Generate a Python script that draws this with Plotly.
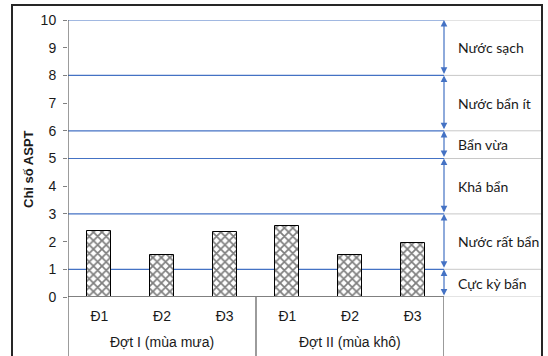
import plotly.graph_objects as go

categories = ["Đ1", "Đ2", "Đ3", "Đ1", "Đ2", "Đ3"]
groups = ["Đợt I (mùa mưa)", "Đợt II (mùa khô)"]
values = [2.38, 1.5, 2.35, 2.55, 1.5, 1.95]
levels = [0, 1, 3, 5, 6, 8, 10]
level_labels = ["Cực kỳ bẩn", "Nước rất bẩn", "Khá bẩn", "Bẩn vừa", "Nước bẩn ít", "Nước sạch"]
y_ticks = list(range(0, 11))

W, H = 548, 356
L, R, T, B = 68, 444, 20, 297
pw, ph = R - L, B - T

def px2paper_x(px):
    return (px - L) / pw

def px2paper_y(py):
    return (B - py) / ph

xs = list(range(len(categories)))
arial = "Liberation Sans, Arial, sans-serif"
txt = "#1a1a1a"

fig = go.Figure()
fig.add_trace(go.Bar(
    x=xs, y=values, width=0.38,
    marker=dict(color="white", line=dict(color="black", width=1),
                pattern=dict(shape="x", fgcolor="black", bgcolor="white", size=6, solidity=0.5)),
    showlegend=False, hoverinfo="skip",
))

shapes = []
blue = "#4472C4"
for lv in levels[1:]:
    shapes.append(dict(type="line", xref="paper", yref="y", x0=0, x1=1, y0=lv, y1=lv,
                       line=dict(color=blue, width=1.2), layer="below"))
for lv in levels:
    shapes.append(dict(type="line", xref="paper", yref="y", x0=1, x1=px2paper_x(541), y0=lv, y1=lv,
                       line=dict(color="#C8C8C8", width=1), layer="below"))
# x axis line
shapes.append(dict(type="line", xref="paper", yref="y", x0=0, x1=1, y0=0, y1=0,
                   line=dict(color="#808080", width=1.8)))
# vertical separators
n = len(categories)
for xv in [-0.5, n / 2 - 0.5, n - 0.5]:
    shapes.append(dict(type="line", xref="x", yref="paper", x0=xv, x1=xv,
                       y0=px2paper_y(358), y1=(1 if xv == -0.5 else 0),
                       line=dict(color="#595959", width=1.2)))
# outer frame
shapes.append(dict(type="rect", xref="paper", yref="paper",
                   x0=px2paper_x(12), x1=px2paper_x(542), y0=px2paper_y(362), y1=px2paper_y(5),
                   line=dict(color="#262626", width=2)))

annotations = []
for i in range(len(levels) - 1):
    lo, hi = levels[i], levels[i + 1]
    annotations.append(dict(x=n - 0.5, y=hi, xref="x", yref="y", ax=n - 0.5, ay=lo,
                            axref="x", ayref="y", text="", showarrow=True,
                            arrowhead=2, arrowside="end+start", arrowsize=1.1,
                            arrowwidth=1.2, arrowcolor=blue))
    annotations.append(dict(x=px2paper_x(456), y=(lo + hi) / 2, xref="paper", yref="y",
                            text=level_labels[i], showarrow=False, xanchor="left", yanchor="middle",
                            font=dict(family="Lato, Liberation Sans, sans-serif", size=14, color=txt)))
for gi, g in enumerate(groups):
    annotations.append(dict(x=gi * 3 + 1, y=px2paper_y(342), xref="x", yref="paper", text=g,
                            showarrow=False, xanchor="center", yanchor="middle",
                            font=dict(family=arial, size=14, color=txt)))
annotations.append(dict(x=px2paper_x(28), y=px2paper_y(169), xref="paper", yref="paper",
                        text="<b>Chỉ số ASPT</b>", textangle=-90, showarrow=False,
                        xanchor="center", yanchor="middle",
                        font=dict(family=arial, size=13, color=txt)))

fig.update_layout(
    width=W, height=H,
    margin=dict(l=L, r=W - R, t=T, b=H - B),
    paper_bgcolor="white", plot_bgcolor="white",
    shapes=shapes, annotations=annotations,
    xaxis=dict(range=[-0.5, n - 0.5], tickvals=xs, ticktext=categories, ticks="",
               showgrid=False, zeroline=False, showline=False, ticklabelstandoff=9,
               tickfont=dict(family=arial, size=14, color=txt)),
    yaxis=dict(range=[0, 10], tickvals=y_ticks, ticks="outside", ticklen=4, tickcolor="#808080",
               showgrid=False, zeroline=False, showline=False, ticklabelstandoff=4,
               tickfont=dict(family=arial, size=14, color=txt)),
    bargap=0,
)

fig.write_html("out.html", config={"displayModeBar": False},
               post_script="document.body.style.margin='0';document.body.style.overflow='hidden';")
